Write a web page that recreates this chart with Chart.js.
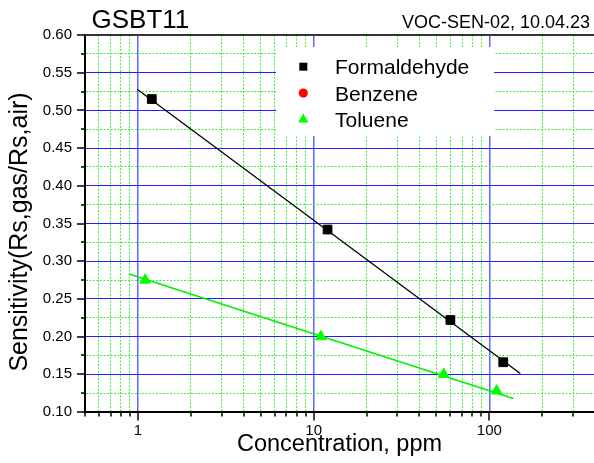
<!DOCTYPE html>
<html>
<head>
<meta charset="utf-8">
<script src="https://cdn.jsdelivr.net/npm/chart.js@4/dist/chart.umd.min.js"></script>
<style>
html,body{margin:0;padding:0;background:#fff;overflow:hidden}
#wrap{width:594px;height:463px;position:relative}
</style>
</head>
<body>
<div id="wrap"><canvas id="c" width="594" height="463"></canvas></div>
<script>
// ---- data ----
const chartTitle = 'GSBT11';
const chartNote = 'VOC-SEN-02, 10.04.23';
const xAxisTitle = 'Concentration, ppm';
const yAxisTitle = 'Sensitivity(Rs,gas/Rs,air)';
const seriesNames = ['Formaldehyde', 'Benzene', 'Toluene'];

const formaldehydeX = [1.2, 12, 60, 120];
const formaldehydeY = [0.515, 0.342, 0.222, 0.166];
const benzeneX = [];
const benzeneY = [];
const tolueneX = [1.1, 11, 55, 110];
const tolueneY = [0.275, 0.200, 0.150, 0.128];

// linear fits (in log x), end points
const formaldehydeFitX = [0.99, 150];
const formaldehydeFitY = [0.528, 0.151];
const tolueneFitX = [0.89, 137];
const tolueneFitY = [0.283, 0.118];

const xMin = 0.5, xMax = 394;
const yMin = 0.10, yMax = 0.60;
const xMajorTicks = [1, 10, 100];
const xMinorTicks = [0.5, 0.6, 0.7, 0.8, 0.9, 2, 3, 4, 5, 6, 7, 8, 9, 20, 30, 40, 50, 60, 70, 80, 90, 200, 300];
const yMajorTicks = [0.10, 0.15, 0.20, 0.25, 0.30, 0.35, 0.40, 0.45, 0.50, 0.55, 0.60];
const yMinorTicks = [0.125, 0.175, 0.225, 0.275, 0.325, 0.375, 0.425, 0.475, 0.525, 0.575];

// ---- helpers ----
const FONT = '"Liberation Sans", Arial, Helvetica, sans-serif';
const pts = (xs, ys) => xs.map((x, i) => ({x: x, y: ys[i]}));
const isMajorX = v => xMajorTicks.some(m => Math.abs(m - v) < 1e-9);
const isMajorY = v => yMajorTicks.some(m => Math.abs(m - v) < 1e-9);
const BLUE_H = '#1f1fff';
const BLUE_V = '#6464ff';
const GREEN = '#3ef03e';

const decorPlugin = {
  id: 'decor',
  afterDatasetsDraw(chart) {
    const ctx = chart.ctx;
    // legend box
    const bx = 276, by = 47, bw = 218, bh = 89;
    ctx.save();
    ctx.fillStyle = '#fff';
    ctx.fillRect(bx, by, bw, bh);
    const mx = 303.3, tx = 335;
    const rows = [74.3, 100.7, 126.7];
    const dsIdx = [0, 1, 2];
    ctx.font = '21px ' + FONT;
    ctx.textBaseline = 'alphabetic';
    ctx.textAlign = 'left';
    dsIdx.forEach((di, i) => {
      const ds = chart.data.datasets[di];
      const cy = rows[i] - 7.6;
      ctx.fillStyle = ds.backgroundColor;
      ctx.beginPath();
      if (ds.pointStyle === 'rect') {
        ctx.rect(mx - 4, cy - 4, 8, 8);
      } else if (ds.pointStyle === 'circle') {
        ctx.arc(mx, cy, 4.6, 0, Math.PI * 2);
      } else {
        ctx.moveTo(mx, cy - 5.5);
        ctx.lineTo(mx + 5.2, cy + 3.5);
        ctx.lineTo(mx - 5.2, cy + 3.5);
        ctx.closePath();
      }
      ctx.fill();
      ctx.fillStyle = '#000';
      ctx.fillText(ds.label, tx, rows[i]);
    });
    ctx.restore();
  },
  afterDraw(chart) {
    const ctx = chart.ctx;
    const a = chart.chartArea;
    const xs = chart.scales.x, ys = chart.scales.y;
    ctx.save();
    // top frame line
    ctx.strokeStyle = '#333';
    ctx.lineWidth = 2;
    ctx.beginPath();
    ctx.moveTo(a.left - 1, a.top);
    ctx.lineTo(a.right + 2, a.top);
    ctx.stroke();
    // tick marks
    ctx.strokeStyle = '#000';
    ctx.lineWidth = 1.5;
    ctx.beginPath();
    xMinorTicks.concat(xMajorTicks).forEach(v => {
      const px = Math.round(xs.getPixelForValue(v));
      const len = isMajorX(v) ? 8.5 : 4.5;
      ctx.moveTo(px, a.bottom);
      ctx.lineTo(px, a.bottom + len);
    });
    yMinorTicks.concat(yMajorTicks).forEach(v => {
      const py = Math.round(ys.getPixelForValue(v));
      const len = isMajorY(v) ? 8 : 4;
      ctx.moveTo(a.left, py);
      ctx.lineTo(a.left - len, py);
    });
    ctx.stroke();
    // titles
    ctx.fillStyle = '#000';
    ctx.textBaseline = 'alphabetic';
    ctx.font = '26px ' + FONT;
    ctx.textAlign = 'left';
    ctx.fillText(chartTitle, 91.5, 27.5);
    ctx.font = '18px ' + FONT;
    ctx.textAlign = 'right';
    ctx.fillText(chartNote, 590, 27.7);
    // y axis title
    const yt = chart.options.scales.y.title;
    ctx.save();
    ctx.translate(27, 232);
    ctx.rotate(-Math.PI / 2);
    ctx.font = '25px ' + FONT;
    ctx.textAlign = 'center';
    ctx.fillText(yt.text, 0, 0);
    ctx.restore();
    ctx.restore();
  }
};

const data = {
  datasets: [
    {
      type: 'scatter', label: seriesNames[0], data: pts(formaldehydeX, formaldehydeY),
      pointStyle: 'rect', pointRadius: 6.2, pointHoverRadius: 6.2, borderWidth: 1,
      backgroundColor: '#000', borderColor: '#000'
    },
    {
      type: 'scatter', label: seriesNames[1], data: pts(benzeneX, benzeneY),
      pointStyle: 'circle', pointRadius: 5, backgroundColor: '#ff0000', borderColor: '#ff0000'
    },
    {
      type: 'scatter', label: seriesNames[2], data: pts(tolueneX, tolueneY),
      pointStyle: 'triangle', pointRadius: 6.2, pointHoverRadius: 6.2, borderWidth: 1,
      backgroundColor: '#00ff00', borderColor: '#00ff00'
    },
    {
      type: 'line', label: 'Formaldehyde fit', data: pts(formaldehydeFitX, formaldehydeFitY),
      borderColor: '#000', borderWidth: 1.3, pointRadius: 0, fill: false, tension: 0, order: 5
    },
    {
      type: 'line', label: 'Toluene fit', data: pts(tolueneFitX, tolueneFitY),
      borderColor: '#00ee00', borderWidth: 1.5, pointRadius: 0, fill: false, tension: 0, order: 5
    }
  ]
};

new Chart(document.getElementById('c'), {
  type: 'scatter',
  data: data,
  plugins: [decorPlugin],
  options: {
    responsive: false,
    animation: false,
    devicePixelRatio: 1,
    layout: {autoPadding: false, padding: {top: 35, left: 0, right: 0, bottom: 0}},
    plugins: {legend: {display: false}, tooltip: {enabled: false}, title: {display: false}},
    scales: {
      x: {
        type: 'logarithmic', min: xMin, max: xMax,
        afterBuildTicks: s => { s.ticks = xMinorTicks.concat(xMajorTicks).sort((p, q) => p - q).map(v => ({value: v})); },
        afterFit: s => { s.height = 51; s.paddingLeft = 0; s.paddingRight = 0; },
        ticks: {
          autoSkip: false, maxRotation: 0, minRotation: 0, padding: 10, color: '#000',
          font: {family: FONT, size: 15},
          callback: v => isMajorX(v) ? String(v) : ''
        },
        grid: {
          drawTicks: false,
          lineWidth: c => (c.tick && isMajorX(c.tick.value)) ? 1.5 : 1,
          color: c => (c.tick && isMajorX(c.tick.value)) ? BLUE_V : GREEN
        },
        border: {
          display: true, color: '#000', width: 2,
          dash: c => (c.tick && !isMajorX(c.tick.value)) ? [2, 1.5] : []
        },
        title: {display: true, text: xAxisTitle, color: '#000', font: {family: FONT, size: 23.5}, padding: {top: 0, bottom: 4}}
      },
      y: {
        type: 'linear', min: yMin, max: yMax,
        afterBuildTicks: s => { s.ticks = yMinorTicks.concat(yMajorTicks).sort((p, q) => p - q).map(v => ({value: v})); },
        afterFit: s => { s.width = 85; s.paddingTop = 0; s.paddingBottom = 0; },
        ticks: {
          autoSkip: false, padding: 13, color: '#000',
          font: {family: FONT, size: 15},
          callback: v => isMajorY(v) ? v.toFixed(2) : ''
        },
        grid: {
          drawTicks: false, lineWidth: 1,
          color: c => (c.tick && isMajorY(c.tick.value)) ? BLUE_H : GREEN
        },
        border: {
          display: true, color: '#000', width: 2,
          dash: c => (c.tick && !isMajorY(c.tick.value)) ? [2, 1.5] : []
        },
        title: {display: false, text: yAxisTitle, color: '#000', font: {family: FONT, size: 25}}
      }
    }
  }
});
</script>
</body>
</html>
